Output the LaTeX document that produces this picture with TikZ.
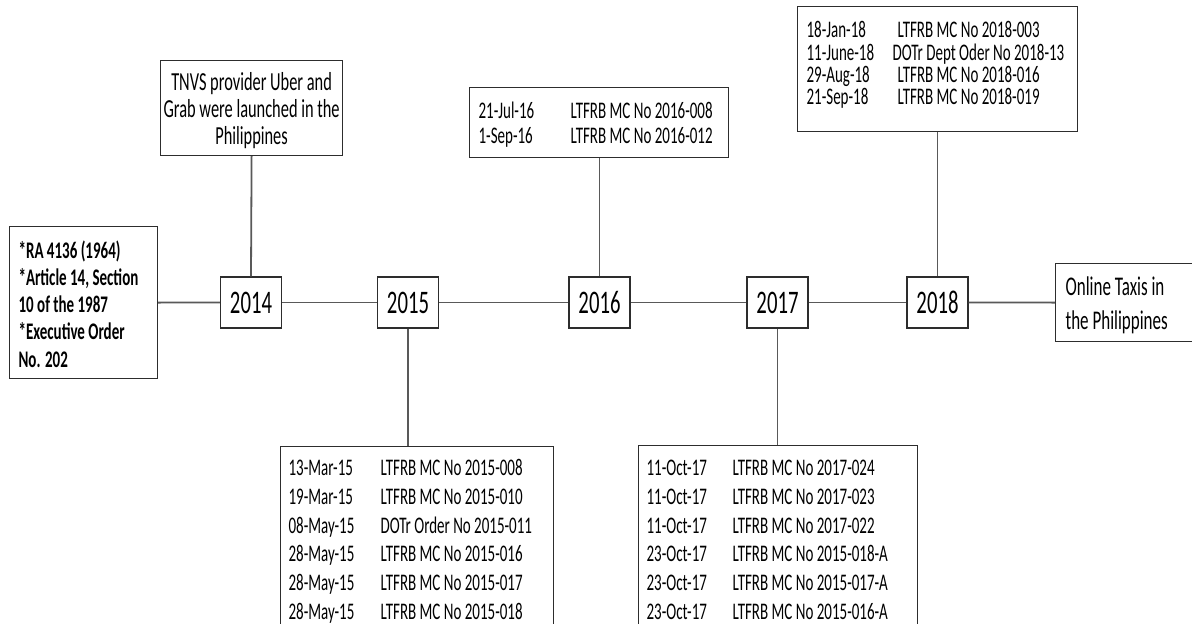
\documentclass[tikz,border=0pt]{standalone}
\usepackage{fontspec}
\setmainfont{Carlito}[FakeStretch=0.63]
\definecolor{conncol}{RGB}{89,89,89}
\definecolor{edgecol}{RGB}{45,45,45}
\newcommand\tbox[6]{\begin{minipage}[c][#2][t]{#1}#5\lineskiplimit=-\maxdimen\parindent=0pt\parskip=0pt#4\rule{0pt}{#3}#6\end{minipage}}
\newcommand\lalign[1]{\leftskip=#1\rightskip=0pt plus 1fil\relax}
\newcommand\calign{\leftskip=0pt plus 1fil\rightskip=0pt plus 1fil\parfillskip=0pt\relax}
\newcommand\drow[3]{\makebox[#1][l]{#2}#3}
\tikzset{
  tb/.style={draw=edgecol, line width=1.2pt, inner sep=0pt, anchor=north west, fill=white},
  yr/.style={draw=edgecol, line width=1.2pt, inner sep=0pt, minimum width=61pt, minimum height=51pt, fill=white, font=\fontsize{32.9}{40}\selectfont},
  conn/.style={draw=conncol, line width=1.8pt}
}
\begin{document}
\begin{tikzpicture}[x=1pt,y=-1pt]
\clip (0,0) rectangle (1192,624);
\fill[white] (0,0) rectangle (1192,624);
% year boxes
\node[yr] (y2014) at (251,302.5) {2014};
\node[yr] (y2015) at (408,302.5) {2015};
\node[yr] (y2016) at (599.5,302.5) {2016};
\node[yr] (y2017) at (777.5,302.5) {2017};
\node[yr] (y2018) at (937.5,302.5) {2018};
% text boxes
\node[tb] (law) at (9,226) {\tbox{148pt}{152pt}{31.7pt}{\lalign{9pt}}{\bfseries\fontsize{23.8}{27.2}\selectfont}{*RA 4136 (1964)\par *Article 14, Section\par 10 of the 1987\par *Executive Order\par No. 202}};
\node[tb] (tnvs) at (160,60) {\tbox{182pt}{95pt}{29.7pt}{\calign}{\fontsize{26}{27}\selectfont}{TNVS provider Uber and\par Grab were launched in the\par Philippines}};
\node[tb] (b2015) at (280,446) {\tbox{273pt}{200pt}{29pt}{\lalign{8pt}}{\fontsize{23.8}{28.7}\selectfont}{%
\drow{92pt}{13-Mar-15}{LTFRB MC No 2015-008}\par
\drow{92pt}{19-Mar-15}{LTFRB MC No 2015-010}\par
\drow{92pt}{08-May-15}{DOTr Order No 2015-011}\par
\drow{92pt}{28-May-15}{LTFRB MC No 2015-016}\par
\drow{92pt}{28-May-15}{LTFRB MC No 2015-017}\par
\drow{92pt}{28-May-15}{LTFRB MC No 2015-018}}};
\node[tb] (t2016) at (469,87) {\tbox{259pt}{70pt}{30.7pt}{\lalign{9pt}}{\fontsize{23.8}{25}\selectfont}{%
\drow{92pt}{21-Jul-16}{LTFRB MC No 2016-008}\par
\drow{92pt}{1-Sep-16}{LTFRB MC No 2016-012}}};
\node[tb] (b2017) at (638,445) {\tbox{279pt}{200pt}{30pt}{\lalign{8pt}}{\fontsize{23.8}{28.7}\selectfont}{%
\drow{86pt}{11-Oct-17}{LTFRB MC No 2017-024}\par
\drow{86pt}{11-Oct-17}{LTFRB MC No 2017-023}\par
\drow{86pt}{11-Oct-17}{LTFRB MC No 2017-022}\par
\drow{86pt}{23-Oct-17}{LTFRB MC No 2015-018-A}\par
\drow{86pt}{23-Oct-17}{LTFRB MC No 2015-017-A}\par
\drow{86pt}{23-Oct-17}{LTFRB MC No 2015-016-A}}};
\node[tb] (t2018) at (797,6) {\tbox{280pt}{125pt}{31.2pt}{\lalign{9pt}}{\fontsize{23.8}{22.2}\selectfont}{%
\drow{91pt}{18-Jan-18}{LTFRB MC No 2018-003}\par
\drow{86pt}{11-June-18}{DOTr Dept Oder No 2018-13}\par
\drow{91pt}{29-Aug-18}{LTFRB MC No 2018-016}\par
\drow{91pt}{21-Sep-18}{LTFRB MC No 2018-019}}};
\node[tb] (online) at (1055,263) {\tbox{160pt}{78pt}{32.2pt}{\lalign{10pt}}{\fontsize{27}{33.5}\selectfont}{Online Taxis in\par the Philippines}};
% connectors
\draw[conn] (law.east) -- (y2014.west);
\draw[conn] (y2014.east) -- (y2015.west);
\draw[conn] (y2015.east) -- (y2016.west);
\draw[conn] (y2016.east) -- (y2017.west);
\draw[conn] (y2017.east) -- (y2018.west);
\draw[conn] (y2018.east) -- (online.west);
\draw[conn] (y2014.north) -- (tnvs.south);
\draw[conn] (y2015.south) -- (y2015.south |- b2015.north);
\draw[conn] (y2016.north) -- (y2016.north |- t2016.south);
\draw[conn] (y2017.south) -- (y2017.south |- b2017.north);
\draw[conn] (y2018.north) -- (y2018.north |- t2018.south);
\end{tikzpicture}
\end{document}
